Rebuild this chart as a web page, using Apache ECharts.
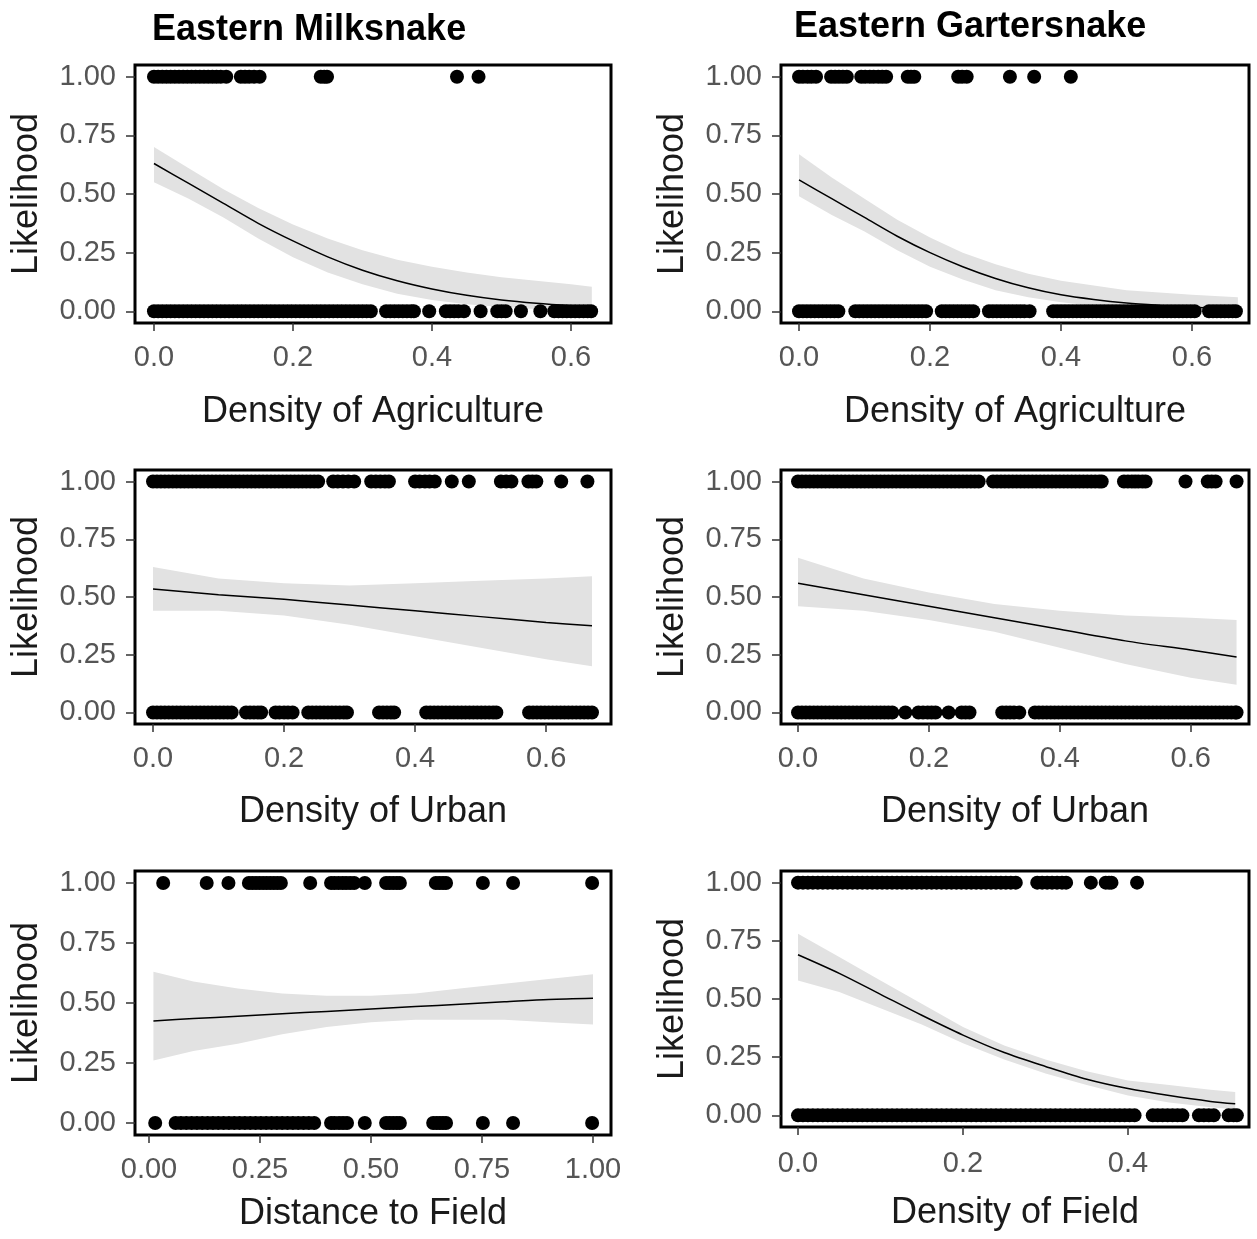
<!DOCTYPE html>
<html>
<head>
<meta charset="utf-8">
<title>Snake likelihood</title>
<script src="https://cdn.jsdelivr.net/npm/echarts@6/dist/echarts.min.js"></script>
<style>
  html, body { margin: 0; padding: 0; background: #fff; }
  #chart { width: 1257px; height: 1239px; }
</style>
</head>
<body>
<div id="chart"></div>
<script>
// observed points: x positions of detections (1) and non-detections (0)
const milkAgriOnes = [0.000, 0.006, 0.012, 0.018, 0.024, 0.030, 0.036, 0.042, 0.048, 0.054, 0.060, 0.066, 0.072, 0.078, 0.084, 0.090, 0.096, 0.104,
  0.125, 0.131, 0.137, 0.144, 0.152, 0.240, 0.245, 0.249, 0.436, 0.467]
const milkAgriZeros = [0.000, 0.006, 0.012, 0.018, 0.024, 0.030, 0.036, 0.042, 0.048, 0.054, 0.060, 0.066, 0.072, 0.078, 0.084, 0.090, 0.096, 0.102, 0.108, 0.114,
  0.120, 0.126, 0.132, 0.138, 0.144, 0.150, 0.156, 0.162, 0.168, 0.174, 0.180, 0.186, 0.192, 0.198, 0.204, 0.210, 0.216, 0.222, 0.228, 0.234,
  0.240, 0.246, 0.252, 0.258, 0.264, 0.270, 0.276, 0.282, 0.288, 0.294, 0.300, 0.306, 0.312,
  0.334, 0.340, 0.346, 0.352, 0.358, 0.364, 0.370, 0.374, 0.396, 0.420, 0.426, 0.432, 0.438, 0.446, 0.470, 0.494, 0.500, 0.506, 0.528, 0.556,
  0.576, 0.582, 0.588, 0.594, 0.600, 0.606, 0.612, 0.618, 0.624, 0.629]

const garterAgriOnes = [0.000, 0.006, 0.013, 0.019, 0.026, 0.049, 0.055, 0.061, 0.067, 0.073, 0.095, 0.101, 0.108, 0.114, 0.121, 0.127, 0.133,
  0.166, 0.171, 0.176, 0.243, 0.249, 0.256, 0.322, 0.359, 0.415]
const garterAgriZeros = [0.000, 0.006, 0.012, 0.018, 0.024, 0.030, 0.036, 0.042, 0.048, 0.054, 0.060,
  0.086, 0.092, 0.098, 0.104, 0.110, 0.116, 0.122, 0.128, 0.134, 0.140, 0.146, 0.152, 0.158, 0.164, 0.170, 0.176, 0.182, 0.188, 0.194,
  0.218, 0.224, 0.230, 0.236, 0.242, 0.248, 0.254, 0.260, 0.266,
  0.290, 0.296, 0.302, 0.308, 0.314, 0.320, 0.326, 0.332, 0.338, 0.344, 0.352,
  0.388, 0.394, 0.400, 0.406, 0.412, 0.418, 0.424, 0.430, 0.436, 0.442, 0.448, 0.454, 0.460, 0.466, 0.472, 0.478, 0.484, 0.490, 0.496, 0.502,
  0.508, 0.514, 0.520, 0.526, 0.532, 0.538, 0.544, 0.550, 0.556, 0.562, 0.568, 0.574, 0.580, 0.586, 0.592, 0.598, 0.604,
  0.626, 0.632, 0.638, 0.644, 0.650, 0.656, 0.662, 0.667]

const milkUrbanOnes = [0.000, 0.006, 0.012, 0.018, 0.024, 0.030, 0.036, 0.042, 0.048, 0.054, 0.060, 0.066, 0.072, 0.078, 0.084, 0.090, 0.096, 0.102, 0.108, 0.114,
  0.120, 0.126, 0.132, 0.138, 0.144, 0.150, 0.156, 0.162, 0.168, 0.174, 0.180, 0.186, 0.192, 0.198, 0.204, 0.210, 0.216, 0.222, 0.228, 0.234,
  0.240, 0.246, 0.252, 0.275, 0.282, 0.290, 0.298, 0.307, 0.333, 0.340, 0.347, 0.354, 0.360, 0.400, 0.407, 0.415, 0.422, 0.430,
  0.456, 0.482, 0.531, 0.539, 0.547, 0.573, 0.579, 0.585, 0.623, 0.663]
const milkUrbanZeros = [0.000, 0.006, 0.012, 0.018, 0.024, 0.030, 0.036, 0.042, 0.048, 0.054, 0.060, 0.066, 0.072, 0.078, 0.084, 0.090, 0.096, 0.102, 0.108, 0.114, 0.120,
  0.142, 0.148, 0.154, 0.160, 0.165, 0.187, 0.193, 0.200, 0.206, 0.213,
  0.237, 0.243, 0.249, 0.255, 0.261, 0.267, 0.273, 0.279, 0.285, 0.291, 0.296, 0.345, 0.351, 0.357, 0.363, 0.368,
  0.417, 0.423, 0.429, 0.435, 0.441, 0.447, 0.453, 0.459, 0.465, 0.471, 0.477, 0.483, 0.489, 0.495, 0.501, 0.507, 0.513, 0.519, 0.524,
  0.574, 0.580, 0.586, 0.592, 0.598, 0.604, 0.610, 0.616, 0.622, 0.628, 0.634, 0.640, 0.646, 0.652, 0.658, 0.664, 0.670]

const garterUrbanOnes = [0.000, 0.006, 0.012, 0.018, 0.024, 0.030, 0.036, 0.042, 0.048, 0.054, 0.060, 0.066, 0.072, 0.078, 0.084, 0.090, 0.096, 0.102, 0.108, 0.114,
  0.120, 0.126, 0.132, 0.138, 0.144, 0.150, 0.156, 0.162, 0.168, 0.174, 0.180, 0.186, 0.192, 0.198, 0.204, 0.210, 0.216, 0.222, 0.228, 0.234,
  0.240, 0.246, 0.252, 0.258, 0.264, 0.270, 0.276,
  0.298, 0.304, 0.310, 0.316, 0.322, 0.328, 0.334, 0.340, 0.346, 0.352, 0.358, 0.364, 0.370, 0.376, 0.382, 0.388, 0.394, 0.400, 0.406,
  0.412, 0.418, 0.424, 0.430, 0.436, 0.442, 0.448, 0.454, 0.460, 0.464,
  0.498, 0.504, 0.510, 0.515, 0.520, 0.526, 0.531, 0.592, 0.626, 0.632, 0.638, 0.670]
const garterUrbanZeros = [0.000, 0.006, 0.012, 0.018, 0.024, 0.030, 0.036, 0.042, 0.048, 0.054, 0.060, 0.066, 0.072, 0.078, 0.084, 0.090, 0.096, 0.102, 0.108, 0.114,
  0.120, 0.126, 0.132, 0.138, 0.144, 0.164, 0.184, 0.191, 0.198, 0.204, 0.210, 0.230, 0.250, 0.256, 0.262,
  0.312, 0.318, 0.324, 0.330, 0.338,
  0.362, 0.368, 0.374, 0.380, 0.386, 0.392, 0.398, 0.404, 0.410, 0.416, 0.422, 0.428, 0.434, 0.440, 0.446, 0.452, 0.458, 0.464, 0.470, 0.476,
  0.482, 0.488, 0.494, 0.500, 0.506, 0.512, 0.518, 0.524, 0.530, 0.536, 0.542, 0.548, 0.554, 0.560, 0.566, 0.572, 0.578, 0.584, 0.590, 0.596,
  0.602, 0.608, 0.614, 0.620, 0.626, 0.632, 0.638, 0.644, 0.650, 0.656, 0.662, 0.668, 0.670]

const milkFieldOnes = [0.032, 0.130, 0.179, 0.225, 0.233, 0.241, 0.249, 0.257, 0.265, 0.273, 0.281, 0.289, 0.297, 0.363,
  0.410, 0.418, 0.427, 0.436, 0.444, 0.453, 0.462, 0.486, 0.534, 0.542, 0.550, 0.558, 0.565, 0.646, 0.654, 0.662, 0.669, 0.752, 0.820, 0.998]
const milkFieldZeros = [0.014, 0.060, 0.072, 0.084, 0.096, 0.108, 0.120, 0.132, 0.144, 0.156, 0.168, 0.180, 0.192, 0.204, 0.216, 0.228, 0.240,
  0.252, 0.264, 0.276, 0.288, 0.300, 0.312, 0.324, 0.336, 0.348, 0.360, 0.372,
  0.410, 0.418, 0.428, 0.437, 0.446, 0.486, 0.534, 0.542, 0.550, 0.558, 0.565, 0.640, 0.648, 0.655, 0.662, 0.669, 0.752, 0.820, 0.998]

const garterFieldOnes = [0.000, 0.006, 0.012, 0.018, 0.024, 0.030, 0.036, 0.042, 0.048, 0.054, 0.060, 0.066, 0.072, 0.078, 0.084, 0.090, 0.096, 0.102, 0.108, 0.114,
  0.120, 0.126, 0.132, 0.138, 0.144, 0.150, 0.156, 0.162, 0.168, 0.174, 0.180, 0.186, 0.192, 0.198, 0.204, 0.210, 0.216, 0.222, 0.228, 0.234,
  0.240, 0.246, 0.252, 0.258, 0.264, 0.290, 0.296, 0.302, 0.308, 0.314, 0.320, 0.325, 0.355, 0.373, 0.377, 0.380, 0.411]
const garterFieldZeros = [0.000, 0.006, 0.012, 0.018, 0.024, 0.030, 0.036, 0.042, 0.048, 0.054, 0.060, 0.066, 0.072, 0.078, 0.084, 0.090, 0.096, 0.102, 0.108, 0.114,
  0.120, 0.126, 0.132, 0.138, 0.144, 0.150, 0.156, 0.162, 0.168, 0.174, 0.180, 0.186, 0.192, 0.198, 0.204, 0.210, 0.216, 0.222, 0.228, 0.234,
  0.240, 0.246, 0.252, 0.258, 0.264, 0.270, 0.276, 0.282, 0.288, 0.294, 0.300, 0.306, 0.312, 0.318, 0.324, 0.330, 0.336, 0.342, 0.348, 0.354,
  0.360, 0.366, 0.372, 0.378, 0.384, 0.390, 0.396, 0.402, 0.408,
  0.430, 0.436, 0.442, 0.448, 0.454, 0.460, 0.466, 0.486, 0.492, 0.498, 0.504, 0.522, 0.528, 0.532]

// fitted curves with confidence band
const milkAgriX = [0, 0.05, 0.1, 0.15, 0.2, 0.25, 0.3, 0.35, 0.4, 0.45, 0.5, 0.55, 0.6, 0.63]
const milkAgriFit = [0.63, 0.545, 0.46, 0.375, 0.30, 0.232, 0.175, 0.13, 0.095, 0.068, 0.048, 0.034, 0.024, 0.02]
const milkAgriLow = [0.55, 0.48, 0.40, 0.31, 0.23, 0.165, 0.115, 0.075, 0.048, 0.03, 0.018, 0.01, 0.006, 0.004]
const milkAgriHigh = [0.70, 0.61, 0.52, 0.44, 0.37, 0.31, 0.26, 0.22, 0.19, 0.165, 0.145, 0.13, 0.115, 0.105]

const garterAgriX = [0, 0.05, 0.1, 0.15, 0.2, 0.25, 0.3, 0.35, 0.4, 0.45, 0.5, 0.55, 0.6, 0.67]
const garterAgriFit = [0.56, 0.48, 0.40, 0.32, 0.25, 0.19, 0.14, 0.10, 0.07, 0.05, 0.035, 0.025, 0.017, 0.011]
const garterAgriLow = [0.49, 0.41, 0.34, 0.26, 0.19, 0.135, 0.09, 0.06, 0.038, 0.024, 0.015, 0.009, 0.006, 0.003]
const garterAgriHigh = [0.67, 0.57, 0.48, 0.39, 0.315, 0.25, 0.20, 0.16, 0.13, 0.11, 0.09, 0.08, 0.07, 0.06]

const milkUrbanX = [0, 0.1, 0.2, 0.3, 0.4, 0.5, 0.6, 0.67]
const milkUrbanFit = [0.535, 0.51, 0.49, 0.465, 0.44, 0.415, 0.39, 0.375]
const milkUrbanLow = [0.44, 0.44, 0.42, 0.38, 0.33, 0.28, 0.23, 0.20]
const milkUrbanHigh = [0.63, 0.58, 0.56, 0.55, 0.56, 0.57, 0.58, 0.59]

const garterUrbanX = [0, 0.1, 0.2, 0.3, 0.4, 0.5, 0.6, 0.67]
const garterUrbanFit = [0.56, 0.51, 0.46, 0.41, 0.36, 0.31, 0.27, 0.24]
const garterUrbanLow = [0.46, 0.44, 0.40, 0.35, 0.28, 0.21, 0.15, 0.12]
const garterUrbanHigh = [0.67, 0.58, 0.52, 0.47, 0.44, 0.42, 0.41, 0.40]

const milkFieldX = [0.01, 0.1, 0.2, 0.3, 0.4, 0.5, 0.6, 0.7, 0.8, 0.9, 1.0]
const milkFieldFit = [0.425, 0.435, 0.445, 0.455, 0.465, 0.475, 0.485, 0.495, 0.505, 0.515, 0.52]
const milkFieldLow = [0.26, 0.30, 0.33, 0.37, 0.40, 0.42, 0.43, 0.43, 0.43, 0.42, 0.41]
const milkFieldHigh = [0.63, 0.59, 0.56, 0.54, 0.53, 0.53, 0.54, 0.56, 0.58, 0.60, 0.62]

const garterFieldX = [0, 0.05, 0.1, 0.15, 0.2, 0.25, 0.3, 0.35, 0.4, 0.45, 0.5, 0.53]
const garterFieldFit = [0.69, 0.61, 0.52, 0.43, 0.345, 0.27, 0.21, 0.155, 0.115, 0.085, 0.06, 0.05]
const garterFieldLow = [0.58, 0.53, 0.46, 0.39, 0.31, 0.24, 0.18, 0.13, 0.085, 0.055, 0.035, 0.025]
const garterFieldHigh = [0.78, 0.68, 0.58, 0.48, 0.38, 0.30, 0.24, 0.19, 0.15, 0.13, 0.11, 0.10]

const yTicks = [0, 0.25, 0.5, 0.75, 1]

const FONT = '"Liberation Sans", Arial, sans-serif'

// one entry per panel: frame position in px and x-axis range
const panels = [
  { left: 135, top: 65, width: 476, height: 258, xMin: -0.0273, xMax: 0.6576, xTicks: [0, 0.2, 0.4, 0.6], dec: 1, xName: 'Density of Agriculture', nameGap: 71, labelMargin: 20,
    ones: milkAgriOnes, zeros: milkAgriZeros, cx: milkAgriX, fit: milkAgriFit, low: milkAgriLow, high: milkAgriHigh },
  { left: 781, top: 65, width: 468, height: 258, xMin: -0.0275, xMax: 0.687, xTicks: [0, 0.2, 0.4, 0.6], dec: 1, xName: 'Density of Agriculture', nameGap: 71, labelMargin: 20,
    ones: garterAgriOnes, zeros: garterAgriZeros, cx: garterAgriX, fit: garterAgriFit, low: garterAgriLow, high: garterAgriHigh },
  { left: 135, top: 470, width: 476, height: 254, xMin: -0.0275, xMax: 0.699, xTicks: [0, 0.2, 0.4, 0.6], dec: 1, xName: 'Density of Urban', nameGap: 70, labelMargin: 20,
    ones: milkUrbanOnes, zeros: milkUrbanZeros, cx: milkUrbanX, fit: milkUrbanFit, low: milkUrbanLow, high: milkUrbanHigh },
  { left: 781, top: 470, width: 468, height: 254, xMin: -0.026, xMax: 0.689, xTicks: [0, 0.2, 0.4, 0.6], dec: 1, xName: 'Density of Urban', nameGap: 70, labelMargin: 20,
    ones: garterUrbanOnes, zeros: garterUrbanZeros, cx: garterUrbanX, fit: garterUrbanFit, low: garterUrbanLow, high: garterUrbanHigh },
  { left: 135, top: 871, width: 476, height: 264, xMin: -0.0315, xMax: 1.0405, xTicks: [0, 0.25, 0.5, 0.75, 1], dec: 2, xName: 'Distance to Field', nameGap: 61, labelMargin: 20,
    ones: milkFieldOnes, zeros: milkFieldZeros, cx: milkFieldX, fit: milkFieldFit, low: milkFieldLow, high: milkFieldHigh },
  { left: 781, top: 871, width: 468, height: 256, xMin: -0.0206, xMax: 0.5467, xTicks: [0, 0.2, 0.4], dec: 1, xName: 'Density of Field', nameGap: 68, labelMargin: 22,
    ones: garterFieldOnes, zeros: garterFieldZeros, cx: garterFieldX, fit: garterFieldFit, low: garterFieldLow, high: garterFieldHigh }
]

const grids = []
const xAxes = []
const yAxes = []
const series = []

panels.forEach((p, i) => {
  grids.push({
    left: p.left, top: p.top, width: p.width, height: p.height,
    show: true, borderColor: '#000', borderWidth: 3, backgroundColor: 'transparent'
  })
  xAxes.push({
    gridIndex: i, type: 'value', min: p.xMin, max: p.xMax,
    name: p.xName, nameLocation: 'middle', nameGap: p.nameGap,
    nameTextStyle: { fontFamily: FONT, fontSize: 36, color: '#1a1a1a' },
    axisLine: { show: false, onZero: false },
    axisTick: { show: true, length: 8, customValues: p.xTicks, lineStyle: { color: '#333', width: 1.5 } },
    axisLabel: { customValues: p.xTicks, margin: p.labelMargin, fontFamily: FONT, fontSize: 29, color: '#555',
      formatter: v => v.toFixed(p.dec) },
    splitLine: { show: false }
  })
  yAxes.push({
    gridIndex: i, type: 'value', min: -0.05, max: 1.05,
    name: 'Likelihood', nameLocation: 'middle', nameGap: 90,
    nameTextStyle: { fontFamily: FONT, fontSize: 36, color: '#1a1a1a' },
    axisLine: { show: false, onZero: false },
    axisTick: { show: true, length: 9, customValues: yTicks, lineStyle: { color: '#333', width: 1.5 } },
    axisLabel: { customValues: yTicks, margin: 19, fontFamily: FONT, fontSize: 29, color: '#555',
      formatter: v => v.toFixed(2) },
    splitLine: { show: false }
  })

  // confidence band as one polygon, built through the axis scales
  series.push({
    type: 'custom', xAxisIndex: i, yAxisIndex: i, silent: true, z: 1,
    data: p.cx.map((x, k) => [x, p.low[k], p.high[k]]),
    renderItem: (params, api) => {
      if (params.dataIndex !== 0) return
      const pts = []
      p.cx.forEach((x, k) => pts.push(api.coord([x, p.high[k]])))
      for (let k = p.cx.length - 1; k >= 0; k--) pts.push(api.coord([p.cx[k], p.low[k]]))
      return { type: 'polygon', shape: { points: pts }, style: { fill: '#e2e2e2' } }
    }
  })
  series.push({
    type: 'scatter', xAxisIndex: i, yAxisIndex: i, z: 2, silent: true,
    symbolSize: 14, itemStyle: { color: '#000', opacity: 1 },
    data: p.ones.map(x => [x, 1]).concat(p.zeros.map(x => [x, 0]))
  })
  series.push({
    type: 'line', xAxisIndex: i, yAxisIndex: i, z: 3, silent: true,
    showSymbol: false, smooth: 0.3,
    lineStyle: { color: '#000', width: 1.5 },
    data: p.cx.map((x, k) => [x, p.fit[k]])
  })
})

const chart = echarts.init(document.getElementById('chart'))
chart.setOption({
  backgroundColor: '#fff',
  animation: false,
  title: [
    { text: 'Eastern Milksnake', left: 147, top: 7, textStyle: { fontFamily: 'Arial, "Liberation Sans", sans-serif', fontWeight: 'bold', fontSize: 36, color: '#000' } },
    { text: 'Eastern Gartersnake', left: 789, top: 4, textStyle: { fontFamily: 'Arial, "Liberation Sans", sans-serif', fontWeight: 'bold', fontSize: 36, color: '#000' } }
  ],
  grid: grids,
  xAxis: xAxes,
  yAxis: yAxes,
  series: series
})
</script>
</body>
</html>
